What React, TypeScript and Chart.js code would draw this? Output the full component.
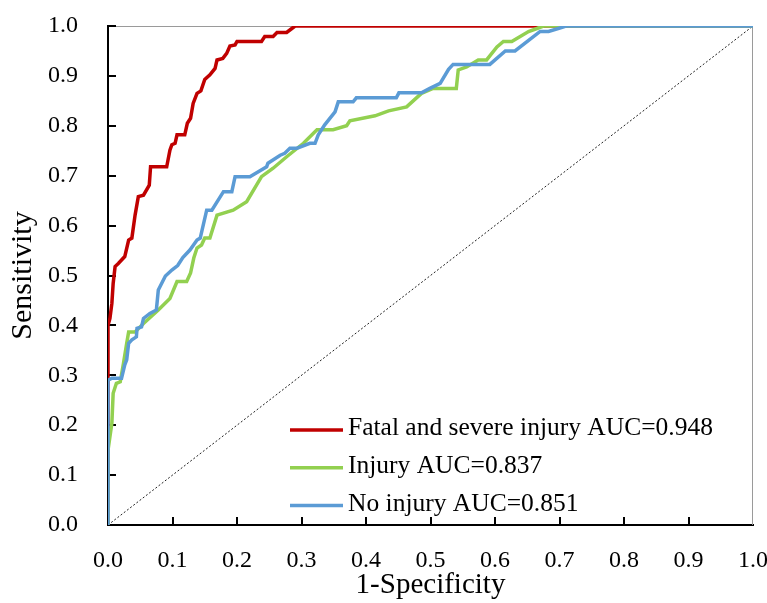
import React, { useEffect, useRef } from "react";
import { Chart, registerables } from "chart.js";

Chart.register(...registerables);

const FONT = "'Liberation Serif', 'Times New Roman', serif";

const seriesLabels = [
  "Fatal and severe injury AUC=0.948",
  "Injury AUC=0.837",
  "No injury AUC=0.851",
];
const seriesColors = ["#C00000", "#92D050", "#5B9BD5"];

const xTitle = "1-Specificity";
const yTitle = "Sensitivity";

// Fatal and severe injury
const fatalX = [0, 0, 0.003, 0.006, 0.008, 0.011, 0.016, 0.021, 0.026, 0.032, 0.037, 0.042, 0.047, 0.055, 0.064, 0.066, 0.091, 0.096, 0.099, 0.104, 0.107, 0.119, 0.123, 0.128, 0.132, 0.138, 0.144, 0.15, 0.158, 0.166, 0.169, 0.178, 0.184, 0.189, 0.197, 0.2, 0.238, 0.243, 0.256, 0.262, 0.277, 0.285, 0.29, 1.0];
const fatalY = [0, 0.4, 0.414, 0.444, 0.484, 0.518, 0.524, 0.531, 0.538, 0.571, 0.575, 0.621, 0.658, 0.661, 0.681, 0.718, 0.718, 0.751, 0.762, 0.765, 0.782, 0.782, 0.805, 0.815, 0.845, 0.865, 0.87, 0.893, 0.902, 0.915, 0.932, 0.935, 0.945, 0.96, 0.962, 0.969, 0.969, 0.979, 0.979, 0.987, 0.987, 0.995, 1.0, 1.0];

// Injury
const injuryX = [0, 0, 0.006, 0.008, 0.013, 0.019, 0.024, 0.029, 0.032, 0.042, 0.055, 0.078, 0.096, 0.107, 0.122, 0.128, 0.133, 0.138, 0.145, 0.15, 0.158, 0.169, 0.194, 0.215, 0.238, 0.256, 0.277, 0.303, 0.324, 0.349, 0.37, 0.375, 0.414, 0.435, 0.463, 0.486, 0.504, 0.54, 0.543, 0.556, 0.574, 0.587, 0.603, 0.613, 0.626, 0.652, 0.665, 0.675, 1.0];
const injuryY = [0, 0.15, 0.204, 0.264, 0.284, 0.287, 0.324, 0.364, 0.387, 0.387, 0.404, 0.431, 0.454, 0.488, 0.488, 0.505, 0.535, 0.555, 0.561, 0.575, 0.575, 0.621, 0.631, 0.648, 0.698, 0.715, 0.738, 0.765, 0.792, 0.792, 0.8, 0.81, 0.82, 0.83, 0.838, 0.865, 0.875, 0.875, 0.912, 0.918, 0.932, 0.932, 0.958, 0.969, 0.969, 0.989, 0.995, 1.0, 1.0];

// No injury
const noInjuryX = [0, 0, 0.006, 0.021, 0.026, 0.029, 0.032, 0.037, 0.044, 0.045, 0.052, 0.055, 0.065, 0.075, 0.078, 0.089, 0.099, 0.108, 0.116, 0.127, 0.138, 0.143, 0.153, 0.161, 0.179, 0.192, 0.197, 0.22, 0.246, 0.248, 0.267, 0.274, 0.282, 0.293, 0.313, 0.321, 0.326, 0.336, 0.352, 0.357, 0.38, 0.385, 0.447, 0.451, 0.486, 0.499, 0.515, 0.528, 0.535, 0.592, 0.616, 0.631, 0.67, 0.683, 0.703, 0.71, 1.0];
const noInjuryY = [0, 0.29, 0.294, 0.294, 0.321, 0.331, 0.364, 0.371, 0.377, 0.394, 0.397, 0.414, 0.424, 0.431, 0.471, 0.499, 0.511, 0.52, 0.536, 0.551, 0.571, 0.575, 0.631, 0.631, 0.668, 0.668, 0.698, 0.698, 0.718, 0.725, 0.741, 0.745, 0.755, 0.755, 0.765, 0.765, 0.782, 0.802, 0.828, 0.848, 0.848, 0.856, 0.856, 0.866, 0.866, 0.875, 0.885, 0.913, 0.923, 0.923, 0.95, 0.95, 0.989, 0.989, 0.997, 1.0, 1.0];

// reference diagonal
const diagX = [0, 1];
const diagY = [0, 1];

const tickValues = [0, 0.1, 0.2, 0.3, 0.4, 0.5, 0.6, 0.7, 0.8, 0.9, 1.0];

const toPoints = (xs: number[], ys: number[]) => xs.map((x, i) => ({ x, y: ys[i] }));

export default function App() {
  const canvasRef = useRef<HTMLCanvasElement>(null);

  useEffect(() => {
    document.body.style.margin = "0";
    const canvas = canvasRef.current;
    if (!canvas) return;

    const framePlugin = {
      id: "frameAndTicks",
      beforeDatasetsDraw(chart: any) {
        const { ctx, chartArea: a, scales } = chart;
        ctx.save();
        // thin gray frame on top and right
        ctx.strokeStyle = "#9a9a9a";
        ctx.lineWidth = 1;
        ctx.beginPath();
        ctx.moveTo(a.left, a.top + 0.5);
        ctx.lineTo(a.right - 0.5, a.top + 0.5);
        ctx.lineTo(a.right - 0.5, a.bottom);
        ctx.stroke();
        // inward tick marks
        ctx.strokeStyle = "#000";
        ctx.lineWidth = 2;
        ctx.beginPath();
        tickValues.forEach((v) => {
          const px = Math.round(scales.x.getPixelForValue(v));
          if (v > 0 && v < 1) {
            ctx.moveTo(px, a.bottom);
            ctx.lineTo(px, a.bottom - 8);
          }
          const py = Math.round(scales.y.getPixelForValue(v));
          if (v > 0) {
            ctx.moveTo(a.left, py);
            ctx.lineTo(a.left + 8, py);
          }
        });
        ctx.stroke();
        ctx.restore();
      },
      afterDraw(chart: any) {
        const { ctx } = chart;
        ctx.save();
        ctx.font = `25.5px ${FONT}`;
        ctx.textBaseline = "middle";
        ctx.textAlign = "left";
        chart.data.datasets.forEach((ds: any, i: number) => {
          if (!ds.label) return;
          const y = 430 + i * 37.8;
          ctx.strokeStyle = ds.borderColor;
          ctx.lineWidth = 3.5;
          ctx.beginPath();
          ctx.moveTo(290, y);
          ctx.lineTo(343, y);
          ctx.stroke();
          ctx.fillStyle = "#000";
          ctx.fillText(ds.label, 348, y - 1.5);
        });
        ctx.restore();
      },
    };

    const lineDs = (label: string, color: string, xs: number[], ys: number[], order: number) => ({
      label,
      data: toPoints(xs, ys),
      borderColor: color,
      backgroundColor: color,
      borderWidth: 3.5,
      pointRadius: 0,
      showLine: true,
      tension: 0,
      order,
    });

    const chart = new Chart(canvas, {
      type: "scatter",
      data: {
        datasets: [
          lineDs(seriesLabels[0], seriesColors[0], fatalX, fatalY, 2),
          lineDs(seriesLabels[1], seriesColors[1], injuryX, injuryY, 1),
          lineDs(seriesLabels[2], seriesColors[2], noInjuryX, noInjuryY, 0),
          {
            label: "",
            data: toPoints(diagX, diagY),
            borderColor: "#222",
            borderWidth: 1,
            borderDash: [2, 2],
            pointRadius: 0,
            showLine: true,
            order: 3,
          } as any,
        ],
      },
      options: {
        animation: false,
        responsive: false,
        layout: { padding: { top: 26, right: 14, left: 0, bottom: 0 } },
        plugins: { legend: { display: false }, tooltip: { enabled: false } },
        scales: {
          x: {
            type: "linear",
            min: 0,
            max: 1,
            afterFit: (s: any) => {
              s.height = 78;
              s.paddingLeft = 0;
              s.paddingRight = 0;
            },
            afterBuildTicks: (s: any) => {
              s.ticks = tickValues.map((v) => ({ value: v }));
            },
            ticks: {
              callback: (v: any) => Number(v).toFixed(1),
              font: { family: FONT, size: 24 },
              color: "#000",
              padding: 21,
              maxRotation: 0,
              autoSkip: false,
            },
            grid: { display: false, drawTicks: false },
            border: { display: true, color: "#000", width: 2 },
            title: {
              display: true,
              text: xTitle,
              font: { family: FONT, size: 29, lineHeight: 1 },
              color: "#000",
              padding: { top: 0, bottom: 3 },
            },
          },
          y: {
            type: "linear",
            min: 0,
            max: 1,
            afterFit: (s: any) => {
              s.width = 108;
              s.paddingTop = 0;
              s.paddingBottom = 0;
            },
            afterBuildTicks: (s: any) => {
              s.ticks = tickValues.map((v) => ({ value: v }));
            },
            ticks: {
              callback: (v: any) => Number(v).toFixed(1),
              font: { family: FONT, size: 24 },
              color: "#000",
              padding: 30,
              autoSkip: false,
            },
            grid: { display: false, drawTicks: false },
            border: { display: true, color: "#000", width: 2 },
            title: {
              display: true,
              text: yTitle,
              font: { family: FONT, size: 30, lineHeight: 1 },
              color: "#000",
              padding: { top: 8, bottom: 0 },
            },
          },
        },
      } as any,
      plugins: [framePlugin],
    });

    return () => chart.destroy();
  }, []);

  return (
    <div style={{ width: 767, height: 603 }}>
      <canvas ref={canvasRef} width={767} height={603} />
    </div>
  );
}
